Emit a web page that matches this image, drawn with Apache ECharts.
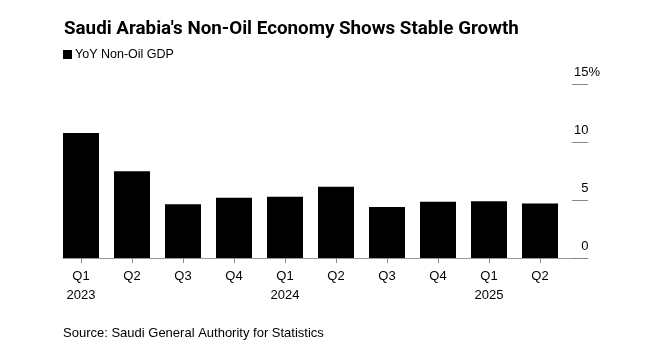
<!DOCTYPE html>
<html><head><meta charset="utf-8">
<script src="https://cdn.jsdelivr.net/npm/echarts@6/dist/echarts.min.js"></script>
<style>html,body{margin:0;padding:0;background:#fff}#c{width:665px;height:361px}</style>
</head><body><div id="c"></div>
<script>
const quarters = ['Q1','Q2','Q3','Q4','Q1','Q2','Q3','Q4','Q1','Q2'];
const years = ['2023','','','','2024','','','','2025',''];
const values = [10.8, 7.5, 4.65, 5.2, 5.3, 6.15, 4.4, 4.85, 4.9, 4.7];
const yTicks = [0, 5, 10, 15];
const categories = quarters.map((q,i)=> years[i] ? q + '\n' + years[i] : q);
const FONT = 'Liberation Sans, Arial, sans-serif';
const chart = echarts.init(document.getElementById('c'), null, {renderer:'canvas'});
chart.setOption({
  animation:false,
  backgroundColor:'#fff',
  title:{text:"Saudi Arabia's Non-Oil Economy Shows Stable Growth", left:59, top:15,
    textStyle:{fontFamily:'Roboto, sans-serif', fontWeight:'bold', fontSize:18.8, color:'#000'}},
  legend:{left:58, top:43, icon:'rect', itemWidth:9, itemHeight:9, itemGap:6,
    textStyle:{fontFamily:FONT, fontSize:12.5, color:'#000', padding:[0,0,0,-2]},
    data:['YoY Non-Oil GDP']},
  graphic:[{type:'text', left:63, top:327, style:{text:'Source: Saudi General Authority for Statistics',
    font:'13px '+FONT, fill:'#000'}}],
  grid:[
    {left:55.5, right:99.5, top:84.3, bottom:103},
    {left:63, right:77, top:84.3, bottom:103}
  ],
  xAxis:[
    {type:'category', gridIndex:0, data:categories, boundaryGap:true,
     axisLine:{show:false},
     axisTick:{show:true, alignWithLabel:true, length:5, lineStyle:{color:'#888'}},
     axisLabel:{fontFamily:FONT, fontSize:13, color:'#000', lineHeight:19, margin:9, interval:0}},
    {type:'value', gridIndex:1, min:0, max:1, axisLine:{show:true, lineStyle:{color:'#999', width:1}},
     axisTick:{show:false}, axisLabel:{show:false}, splitLine:{show:false}}
  ],
  yAxis:[
    {type:'value', gridIndex:0, min:0, max:15, interval:5, show:false},
    {type:'value', gridIndex:1, position:'right', min:0, max:15, interval:5,
     axisLine:{show:false, onZero:false}, splitLine:{show:false},
     axisTick:{show:true, inside:true, length:16, lineStyle:{color:'#888'}},
     axisLabel:{inside:true, margin:-12, verticalAlign:'bottom', padding:[0,0,5,0],
       formatter:v=> yTicks.includes(v) ? (v===15 ? '{a|15}{b|%}' : '{a|'+v+'}{c|%}') : '',
       rich:{a:{fontFamily:FONT, fontSize:13, color:'#000'}, b:{fontFamily:FONT, fontSize:13, color:'#000'},
             c:{fontFamily:FONT, fontSize:13, color:'rgba(0,0,0,0)'}}}}
  ],
  series:[{name:'YoY Non-Oil GDP', type:'bar', xAxisIndex:0, yAxisIndex:0, data:values,
    barWidth:36, itemStyle:{color:'#000'}}]
});
</script></body></html>
